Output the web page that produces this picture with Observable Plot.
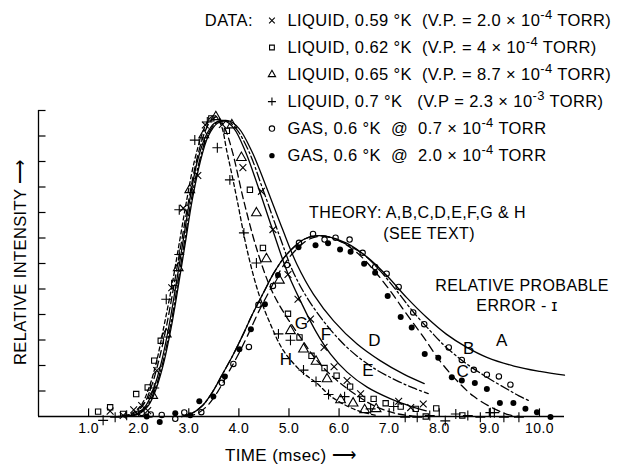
<!DOCTYPE html>
<html><head><meta charset="utf-8">
<script src="https://cdn.jsdelivr.net/npm/d3@7"></script>
<script src="https://cdn.jsdelivr.net/npm/@observablehq/plot@0.6"></script>
<style>
body{margin:0;background:#fff;}
#chart svg{display:block;}
</style></head><body><div id="chart"></div>
<script>
// ---------- tick values ----------
const xTicks = [1,2,3,4,5,6,7,8,9,10];
const yTicks = [1,2,3,4,5,6,7,8,9,10,11,12];

// ---------- data points (time msec, relative intensity) ----------
// x  LIQUID 0.59 K
const liq059_t = [1.43,1.69,1.90,2.06,2.18,2.36,2.66,2.89,3.18,3.33,3.67,4.08,4.45,4.68,4.98,5.18,5.43,5.70,5.90,6.16,6.43,7.19,7.43,7.68];
const liq059_i = [0.21,0.04,0.26,0.43,0.23,1.80,5.05,8.17,9.45,11.43,11.45,9.76,8.83,7.33,5.57,4.60,3.82,2.71,1.95,1.41,0.89,0.60,0.35,0.49];
// square LIQUID 0.62 K
const liq062_t = [1.19,1.43,1.69,1.95,2.18,2.31,2.44,2.71,3.26,3.45,3.76,4.22,4.48,4.98,5.21,5.45,5.71,5.95,6.22,6.46,6.69,6.93,7.23,7.53,7.73,7.94,8.46];
const liq062_i = [0.19,0.36,0.10,0.88,1.14,2.19,2.97,5.24,10.78,11.69,11.20,8.89,6.61,4.03,3.10,2.38,1.90,1.60,1.17,0.69,0.69,0.52,0.39,0.30,0.00,0.32,0.04];
// triangle LIQUID 0.65 K
const liq065_t = [2.28,2.55,2.79,3.02,3.30,3.54,3.86,4.05,4.35,4.55,4.81,5.03,5.29,5.54,5.76,6.03,6.28,6.51,6.74];
const liq065_i = [0.82,3.23,5.83,8.89,11.04,11.75,11.43,10.15,7.98,6.18,5.34,3.36,2.64,2.16,1.47,0.65,0.52,0.26,0.30];
// plus LIQUID 0.7 K
const liq07_t = [1.29,1.53,1.76,2.31,2.55,2.81,2.81,3.12,3.37,3.57,3.82,4.10,4.35,4.79,5.03,5.29,5.54,5.79,6.11,6.63,7.09,7.32,7.56,7.81,8.12,8.33,8.57,8.82,9.02,9.10,9.29,9.59];
const liq07_i = [-0.15,-0.03,0.05,1.12,4.60,6.35,8.11,10.84,11.55,10.54,9.28,7.20,6.02,3.24,2.99,1.82,1.37,0.86,0.78,0.30,0.39,-0.03,-0.03,0.04,-0.17,0.10,0.04,-0.03,0.15,0.15,-0.03,-0.03];
// open circle GAS 0.7e-4 torr
const gas07_t = [2.06,2.24,2.46,2.73,2.91,3.25,3.66,3.89,4.20,4.39,4.68,4.96,5.20,5.48,5.71,5.93,6.21,6.47,6.72,6.95,7.19,7.48,7.70,8.19,8.45,8.69,8.95,9.19,9.42];
const gas07_i = [0.14,0.08,0.06,-0.09,0.16,0.17,1.32,2.06,2.73,4.38,5.12,5.94,6.81,7.16,6.94,7.01,6.94,6.42,5.86,5.60,5.08,4.08,3.62,2.71,2.22,1.83,1.64,1.57,1.25];
// filled circle GAS 2.0e-4 torr
const gas20_t = [2.16,2.42,2.73,3.03,3.21,3.49,3.72,4.01,4.24,4.52,4.78,5.19,5.53,5.78,6.02,6.23,6.50,6.72,6.97,7.23,7.45,7.71,7.98,8.25,8.45,8.71,8.95,9.21,9.48,9.72,9.95,10.22];
const gas20_i = [0.00,-0.22,0.13,0.05,0.60,0.78,1.57,2.64,3.42,4.40,5.55,6.64,6.72,6.79,6.55,6.46,5.99,5.64,4.73,3.90,3.49,2.45,2.30,1.54,1.41,1.31,1.08,0.53,0.53,0.30,0.17,-0.02];

// ---------- theory curves ----------
const curveH_t = [1.59,1.84,2.05,2.20,2.35,2.50,2.66,2.81,2.96,3.11,3.27,3.40,3.52,3.65,3.76,3.87,3.97,4.17,4.40,4.63,4.89,5.23,5.57,5.83,6.12,6.42,6.72];
const curveH_i = [0,0.1,0.45,1.1,2.1,3.5,5.1,6.8,8.5,10.0,11.1,11.65,11.8,11.4,10.4,9.4,8.44,6.48,4.79,3.62,2.58,1.80,1.28,0.8,0.45,0.2,0.05];
const curveG_t = [1.64,1.88,2.09,2.24,2.39,2.55,2.70,2.85,3.00,3.15,3.31,3.44,3.57,3.72,3.87,4.10,4.37,4.66,4.96,5.23,5.56,5.96,6.36,6.72,7.13,7.53];
const curveG_i = [0,0.1,0.45,1.1,2.1,3.5,5.1,6.8,8.5,10.0,11.1,11.6,11.75,11.3,10.39,8.44,6.48,4.92,3.88,3.10,2.19,1.41,0.82,0.4,0.12,0.0];
const curveF_t = [1.69,1.95,2.15,2.30,2.45,2.60,2.74,2.88,3.02,3.17,3.34,3.51,3.70,3.90,4.13,4.37,4.66,4.96,5.23,5.53,5.83,6.16,6.56,7.02,7.43,7.74];
const curveF_i = [0,0.1,0.45,1.1,2.1,3.5,5.1,6.8,8.5,10.0,11.0,11.5,11.6,11.3,10.39,9.09,7.4,5.7,4.53,3.36,2.45,1.74,1.15,0.7,0.4,0.22];
const curveE_t = [1.72,1.98,2.18,2.33,2.48,2.63,2.77,2.91,3.05,3.21,3.37,3.54,3.74,3.94,4.20,4.47,4.80,5.10,5.43,5.83,6.22,6.69,7.16,7.48,7.78];
const curveE_i = [0,0.1,0.45,1.1,2.1,3.5,5.1,6.8,8.5,10.0,11.0,11.5,11.6,11.3,10.39,8.96,7.14,5.6,4.45,3.4,2.6,1.9,1.4,1.12,0.9];
const curveD_t = [1.74,2.00,2.20,2.35,2.50,2.65,2.79,2.93,3.07,3.23,3.39,3.57,3.78,4.00,4.26,4.53,4.86,5.16,5.49,5.89,6.36,6.82,7.29,7.70];
const curveD_i = [0,0.1,0.45,1.1,2.1,3.5,5.1,6.8,8.5,10.0,11.0,11.5,11.6,11.3,10.39,9.09,7.4,5.96,4.79,3.75,2.84,2.19,1.66,1.29];
const curveA_t = [2.86,3.06,3.27,3.47,3.67,3.88,4.08,4.28,4.49,4.69,4.89,5.10,5.30,5.52,5.73,6.15,6.56,6.96,7.35,7.75,8.14,8.55,8.95,9.49,10.01,10.5];
const curveA_i = [0,0.12,0.42,0.95,1.65,2.4,3.2,4.05,4.85,5.6,6.2,6.65,6.95,7.08,7.07,6.8,6.25,5.51,4.66,3.88,3.23,2.71,2.32,1.98,1.77,1.62];
const curveB_t = [2.86,3.06,3.27,3.47,3.67,3.88,4.08,4.28,4.49,4.69,4.89,5.10,5.30,5.52,5.73,6.15,6.49,6.82,7.15,7.49,7.82,8.14,8.55,8.95,9.35,9.58,9.78];
const curveB_i = [0,0.12,0.42,0.95,1.65,2.4,3.2,4.05,4.85,5.6,6.2,6.65,6.95,7.08,7.07,6.75,6.35,5.71,4.93,4.08,3.36,2.71,2.06,1.54,1.08,0.82,0.63];
const curveC_t = [2.96,3.17,3.37,3.57,3.77,3.98,4.18,4.38,4.59,4.79,4.99,5.20,5.40,5.62,5.83,6.02,6.36,6.68,7.02,7.35,7.69,8.01,8.35,8.68,9.08,9.40,9.60];
const curveC_i = [0,0.12,0.42,0.95,1.65,2.4,3.2,4.05,4.85,5.6,6.2,6.65,6.95,7.07,7.02,6.88,6.42,5.77,4.93,4.01,3.10,2.19,1.41,0.8,0.32,0.06,0];

// ---------- text ----------
const legendLabels = [
  "LIQUID, 0.59 °K\u00A0 (V.P. = 2.0 × 10⁻⁴ TORR)",
  "LIQUID, 0.62 °K\u00A0 (V.P. = 4 × 10⁻⁴ TORR)",
  "LIQUID, 0.65 °K\u00A0 (V.P. = 8.7 × 10⁻⁴ TORR)",
  "LIQUID, 0.7 °K\u00A0\u00A0 (V.P = 2.3 × 10⁻³ TORR)",
  "GAS, 0.6 °K\u00A0 @\u00A0 0.7 × 10⁻⁴ TORR",
  "GAS, 0.6 °K\u00A0 @\u00A0 2.0 × 10⁻⁴ TORR"
];
const legendSymbols = ["times","square","triangle","plus","circle","circle"];
const legendFilled = [false,false,false,false,false,true];
const curveNames = ["A","B","C","D","E","F","G","H"];
const curveLabelT = [9.25,8.59,8.47,6.71,6.58,5.74,5.25,4.94];
const curveLabelI = [2.97,2.65,1.77,2.97,1.80,3.22,3.64,2.25];
const notes = ["THEORY: A,B,C,D,E,F,G & H","(SEE TEXT)","RELATIVE PROBABLE","ERROR - ɪ"];
const notesT = [5.40,6.88,7.92,8.74];
const notesI = [8.0,7.16,5.12,4.34];

const zip = (t, v) => t.map((d, k) => ({t: d, I: v[k]}));
const FONT = "'Liberation Sans', Arial, sans-serif";
const line = (t, v, dash) => Plot.line(zip(t, v), {x: "t", y: "I", stroke: "black", strokeWidth: 1.3, strokeDasharray: dash, curve: "catmull-rom"});
const dots = (t, v, sym, filled, r) => Plot.dot(zip(t, v), {x: "t", y: "I", symbol: sym, r: r,
  fill: filled ? "black" : "none", stroke: filled ? "none" : "black", strokeWidth: 1.1});

const legendData = legendLabels.map((s, k) => ({s, sym: legendSymbols[k], filled: legendFilled[k], y: 15.53 - k * 1.06}));

const plot = Plot.plot({
  width: 618, height: 465,
  marginLeft: 38, marginRight: 54, marginTop: 110, marginBottom: 49,
  x: {domain: [0, 10.5], axis: null},
  y: {domain: [0, 12], axis: null},
  style: {fontFamily: FONT, background: "white", color: "black", letterSpacing: "0.4px"},
  marks: [
    // axes
    Plot.ruleX([0], {y1: 0, y2: 12, stroke: "black", strokeWidth: 1.3}),
    Plot.ruleY([0], {x1: 0, x2: 10.5, stroke: "black", strokeWidth: 1.3}),
    Plot.ruleY(yTicks, {y: d => d, x1: 0, x2: 0.15, stroke: "black", strokeWidth: 1.2}),
    Plot.ruleX(xTicks, {x: d => d, y1: 0, y2: 0.3, stroke: "black", strokeWidth: 1.2}),
    Plot.text(xTicks, {x: d => d, y: 0, text: d => d.toFixed(1), dy: 7, lineAnchor: "top", fontSize: 14}),
    Plot.text(["TIME (msec) ⟶"], {x: 5.03, y: -1.53, text: d => d, fontSize: 17}),
    Plot.text(["RELATIVE INTENSITY ⟶"], {x: -0.36, y: 6.05, text: d => d, rotate: -90, fontSize: 16.5}),
    // theory curves
    line(curveA_t, curveA_i, null),
    line(curveB_t, curveB_i, "9,3,2,3"),
    line(curveC_t, curveC_i, "8,5"),
    line(curveD_t, curveD_i, null),
    line(curveE_t, curveE_i, "9,3,2,3"),
    line(curveF_t, curveF_i, null),
    line(curveG_t, curveG_i, "7,4"),
    line(curveH_t, curveH_i, "4,3"),
    // data
    dots(liq059_t, liq059_i, "times", false, 3.2),
    dots(liq062_t, liq062_i, "square", false, 3),
    dots(liq065_t, liq065_i, "triangle", false, 3.6),
    dots(liq07_t, liq07_i, "plus", false, 3.3),
    dots(gas07_t, gas07_i, "circle", false, 2.7),
    dots(gas20_t, gas20_i, "circle", true, 3),
    // curve labels
    Plot.text(curveNames, {x: (d, k) => curveLabelT[k], y: (d, k) => curveLabelI[k], text: d => d, fontSize: 17}),
    // notes
    Plot.text(notes, {x: (d, k) => notesT[k], y: (d, k) => notesI[k], text: d => d, textAnchor: "start", fontSize: 16}),
    // legend
    Plot.text(["DATA:"], {x: 3.32, y: 15.53, text: d => d, textAnchor: "start", fontSize: 16.5}),
    Plot.dot(legendData, {x: 4.66, y: "y", symbol: "sym", r: 2.7, fill: d => d.filled ? "black" : "none", stroke: d => d.filled ? "none" : "black", strokeWidth: 1.1}),
    Plot.text(legendData, {x: 4.97, y: "y", text: "s", textAnchor: "start", fontSize: 16.5})
  ]
});

// raise the exponents (10⁻⁴ etc.) as real superscript text
const supMap = {"⁻": "-", "³": "3", "⁴": "4"};
d3.select(plot).selectAll("text").each(function () {
  const s = this.textContent;
  const m = s.match(/^(.*?)([⁻³⁴]+)(.*)$/);
  if (!m) return;
  const el = d3.select(this);
  el.text(null);
  el.append("tspan").text(m[1]);
  el.append("tspan").attr("dy", -7).attr("font-size", 13).text([...m[2]].map(c => supMap[c]).join(""));
  el.append("tspan").attr("dy", 7).text(m[3]);
});
document.getElementById("chart").append(plot);
</script>
</body></html>
